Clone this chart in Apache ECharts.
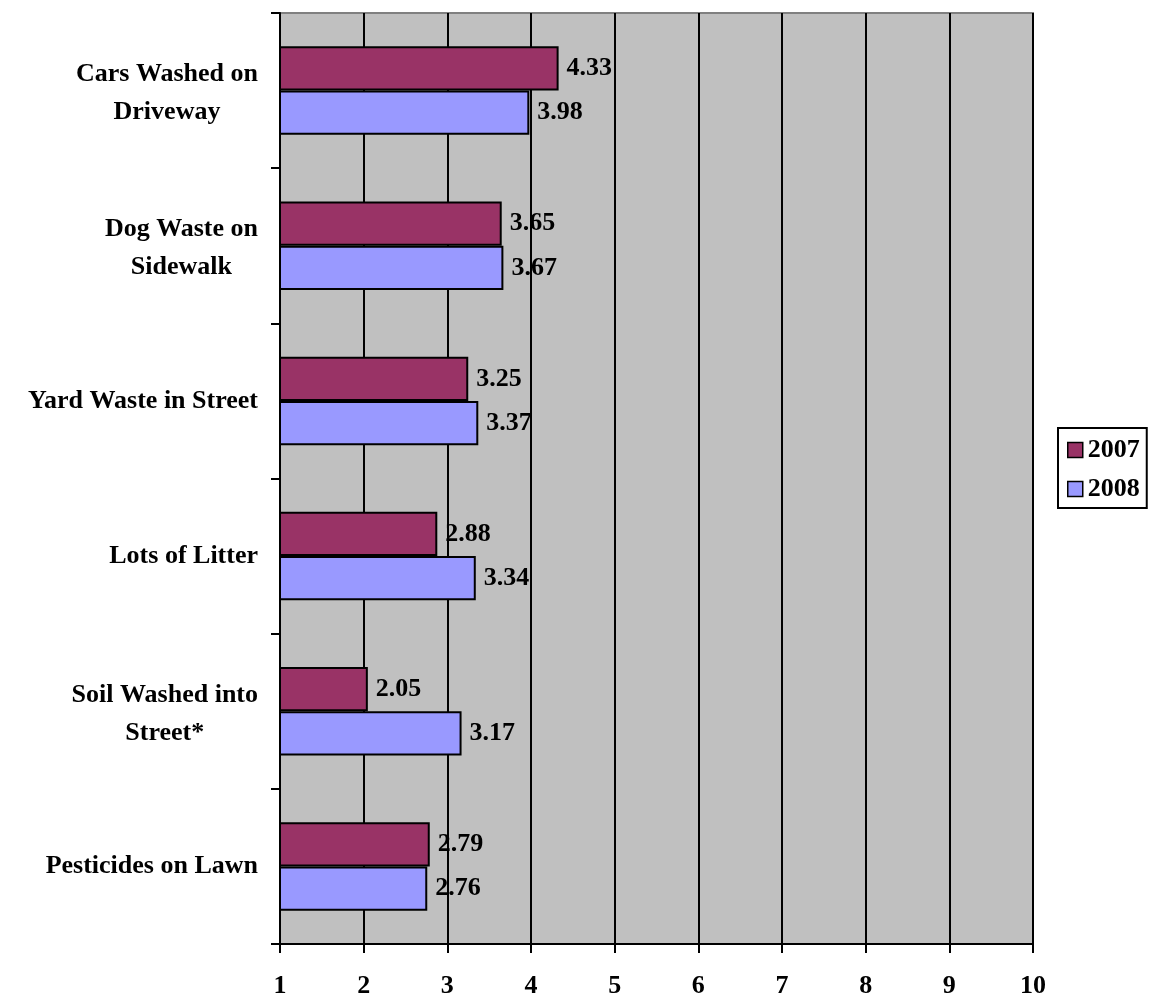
<!DOCTYPE html>
<html>
<head>
<meta charset="utf-8">
<script src="https://cdn.jsdelivr.net/npm/echarts@6/dist/echarts.min.js"></script>
<style>
  html, body { margin: 0; padding: 0; background: #fff; }
  #chart { width: 1151px; height: 996px; }
</style>
</head>
<body>
<div id="chart"></div>
<script>
// Survey categories, listed top to bottom
const categories = [
  'Cars Washed on\nDriveway',
  'Dog Waste on\nSidewalk',
  'Yard Waste in Street',
  'Lots of Litter',
  'Soil Washed into\nStreet*',
  'Pesticides on Lawn'
];
const values2007 = [4.33, 3.65, 3.25, 2.88, 2.05, 2.79];
const values2008 = [3.98, 3.67, 3.37, 3.34, 3.17, 2.76];
const xTicks = [1, 2, 3, 4, 5, 6, 7, 8, 9, 10];

const serif = '"Liberation Serif", "DejaVu Serif", serif';
const labelStyle = {
  show: true,
  position: 'right',
  distance: 8,
  color: '#000',
  fontFamily: serif,
  fontWeight: 'bold',
  fontSize: 26,
  formatter: p => p.value.toFixed(2)
};

const nameFont = {
  align: 'center',
  color: '#000',
  fontFamily: serif,
  fontWeight: 'bold',
  fontSize: 26,
  lineHeight: 38
};

const chart = echarts.init(document.getElementById('chart'));
chart.setOption({
  animation: false,
  grid: {
    left: 280, right: 118, top: 13, bottom: 52,
    outerBoundsMode: 'none',
    containLabel: false,
    show: true,
    backgroundColor: '#C0C0C0',
    borderColor: '#808080',
    borderWidth: 2
  },
  legend: {
    orient: 'vertical',
    left: 1058, top: 428,
    icon: 'rect',
    itemWidth: 15, itemHeight: 15,
    itemGap: 13,
    padding: [9, 7, 6, 9],
    borderColor: '#000',
    borderWidth: 2,
    itemStyle: { borderColor: '#000', borderWidth: 1.5 },
    textStyle: {
      fontFamily: serif, fontWeight: 'bold', fontSize: 26, lineHeight: 26,
      color: '#000'
    },
    data: ['2007', '2008']
  },
  xAxis: {
    type: 'value',
    min: xTicks[0],
    max: xTicks[xTicks.length - 1],
    interval: 1,
    axisLine: { show: true, lineStyle: { color: '#000', width: 2 } },
    axisTick: { show: true, length: 9, lineStyle: { color: '#000', width: 2 } },
    splitLine: { show: true, lineStyle: { color: '#000', width: 2 } },
    axisLabel: {
      margin: 29,
      color: '#000',
      fontFamily: serif,
      fontWeight: 'bold',
      fontSize: 26
    }
  },
  yAxis: {
    type: 'category',
    inverse: true,
    data: categories,
    axisLine: { show: true, lineStyle: { color: '#000', width: 2 } },
    axisTick: { show: true, length: 9, lineStyle: { color: '#000', width: 2 } },
    axisLabel: {
      margin: 22,
      align: 'right',
      // two-line names: each line centred, block flush right,
      // nudged down a little by a thin spacer line
      formatter: v => {
        const lines = v.split('\n');
        if (lines.length === 1) return '{c|' + v + '}';
        return '{s| }\n{c|' + lines[0] + '}\n{c|' + lines[1] + '}';
      },
      rich: {
        s: { fontSize: 1, lineHeight: 6 },
        c: nameFont
      }
    }
  },
  series: [
    {
      name: '2007',
      type: 'bar',
      data: values2007,
      barGap: '0%',
      barCategoryGap: '43%',
      itemStyle: { color: '#993366', borderColor: '#000', borderWidth: 2 },
      label: labelStyle
    },
    {
      name: '2008',
      type: 'bar',
      data: values2008,
      barGap: '0%',
      barCategoryGap: '43%',
      itemStyle: { color: '#9999FF', borderColor: '#000', borderWidth: 2 },
      label: labelStyle
    }
  ]
});
</script>
</body>
</html>
